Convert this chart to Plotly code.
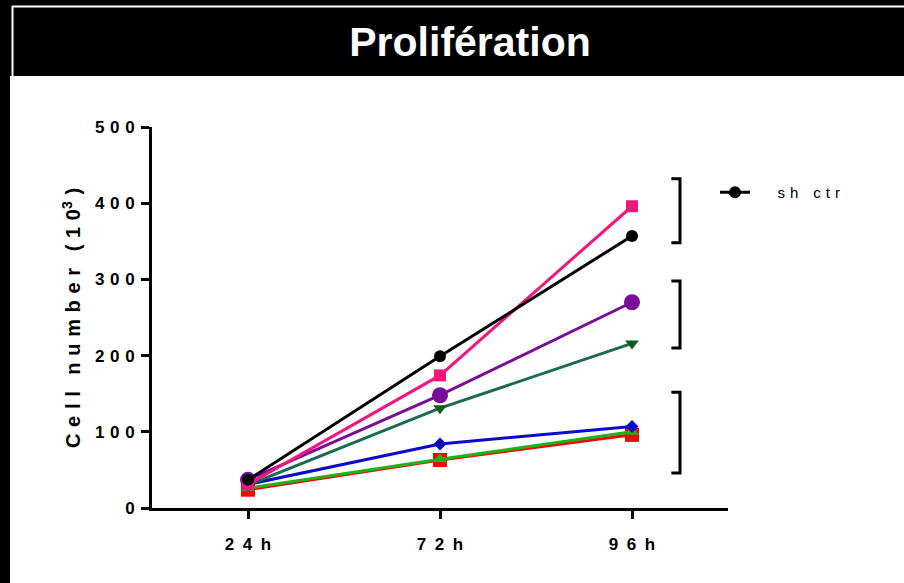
import plotly.graph_objects as go

# ---- data ----
times = ["24h", "72h", "96h"]
tick_labels = ["\u2002".join(t) for t in times]
y_ticks = [0, 100, 200, 300, 400, 500]
y_tick_labels = ["\u2004".join(str(v)) for v in y_ticks]

red_sq = [24, 63, 96]
green_up = [26, 64, 100]
blue_dia = [31, 84, 107]
teal_down = [30, 131, 216]
purple_circ = [37, 148, 270]
pink_sq = [31, 174, 396]
sh_ctr = [37, 199, 357]

# ---- layout geometry (pixels) ----
W, H = 904, 583
L, R, T, B = 152, 728, 127, 508
pw, ph = R - L, B - T

def px(x):
    return (x - L) / pw

def py(y):
    return (B - y) / ph

FONT = "Liberation Sans, Arial, sans-serif"

series = [
    (red_sq, "#FF0000", "#FF0000", "square", 14, "sh 3"),
    (green_up, "#1BB31B", "#1BB31B", "triangle-up", 12, "sh 4"),
    (blue_dia, "#0A0AC8", "#0A0AC8", "diamond", 10, "sh 2"),
    (teal_down, "#1A6B52", "#0B5E1E", "triangle-down", 12, "sh 5"),
    (purple_circ, "#780E98", "#780E98", "circle", 16, "sh 6"),
    (pink_sq, "#F2177E", "#F2177E", "square", 12, "sh 1"),
]

fig = go.Figure()
for vals, col, mc, sym, sz, name in series:
    fig.add_trace(go.Scatter(
        x=times, y=vals, mode="lines+markers", name=name, showlegend=False,
        line=dict(color=col, width=3),
        marker=dict(symbol=sym, size=sz, color=mc),
        cliponaxis=False,
    ))
fig.add_trace(go.Scatter(
    x=times, y=sh_ctr, mode="lines+markers",
    name="\u2003\u2002s\u2004h\u2003c\u2004t\u2004r", showlegend=True,
    line=dict(color="black", width=3),
    marker=dict(symbol="circle", size=12, color="black"),
    cliponaxis=False,
))

shapes = [
    # header band
    dict(type="rect", xref="paper", yref="paper", x0=px(0), x1=px(W), y0=py(76), y1=py(0),
         fillcolor="black", line=dict(width=0), layer="below"),
    # left strip
    dict(type="rect", xref="paper", yref="paper", x0=px(0), x1=px(10), y0=py(H), y1=py(0),
         fillcolor="black", line=dict(width=0), layer="below"),
    # white frame lines
    dict(type="line", xref="paper", yref="paper", x0=px(12), x1=px(W), y0=py(6.5), y1=py(6.5),
         line=dict(color="white", width=2)),
    dict(type="line", xref="paper", yref="paper", x0=px(12.5), x1=px(12.5), y0=py(6), y1=py(76),
         line=dict(color="white", width=2)),
]
# significance brackets
for top, bot in [(432, 348), (298, 210), (152, 46)]:
    shapes.append(dict(type="path", xref="x", yref="y",
                       path=f"M 2.205,{top} L 2.25,{top} L 2.25,{bot} L 2.205,{bot}",
                       line=dict(color="black", width=3)))

ytitle = "\u2004".join("Cell") + "\u2002\u2004" + "\u2004".join("number") + "\u2002\u2004" + \
    "(\u20041\u20040<sup>3</sup>\u2004)"

fig.update_layout(
    width=W, height=H,
    margin=dict(l=L, r=W - R, t=T, b=H - B),
    paper_bgcolor="white", plot_bgcolor="white",
    font=dict(family=FONT, color="black"),
    title=dict(text="<b>Prolifération</b>", x=470 / W, y=1 - 42 / H, xanchor="center",
               yanchor="middle", xref="container", yref="container",
               font=dict(size=41, color="white", family=FONT)),
    shapes=shapes,
    showlegend=True,
    legend=dict(x=px(715), y=py(176), xanchor="left", yanchor="top",
                bgcolor="rgba(0,0,0,0)", font=dict(size=15, family=FONT)),
    annotations=[dict(text="<b>" + ytitle + "</b>", xref="paper",
                      yref="paper", x=px(71), y=py(318), textangle=-90, showarrow=False,
                      font=dict(size=20, family=FONT), xanchor="center", yanchor="middle")],
)
fig.update_xaxes(
    type="category", range=[-0.5, 2.5], tickvals=times, ticktext=tick_labels,
    showline=True, linecolor="black", linewidth=3, ticks="outside", ticklen=8, tickwidth=3,
    tickcolor="black", showgrid=False, zeroline=False,
    tickfont=dict(size=17, family=FONT, weight="bold"), ticklabelstandoff=11,
)
fig.update_yaxes(
    range=[0, 500], tickvals=y_ticks, ticktext=y_tick_labels,
    showline=True, linecolor="black", linewidth=3, ticks="outside", ticklen=8, tickwidth=3,
    tickcolor="black", showgrid=False, zeroline=False,
    tickfont=dict(size=17, family=FONT, weight="bold"), ticklabelstandoff=3,
)

fig.write_html("out.html", config={"displayModeBar": False},
               post_script="document.body.style.margin='0';document.body.style.padding='0';")
